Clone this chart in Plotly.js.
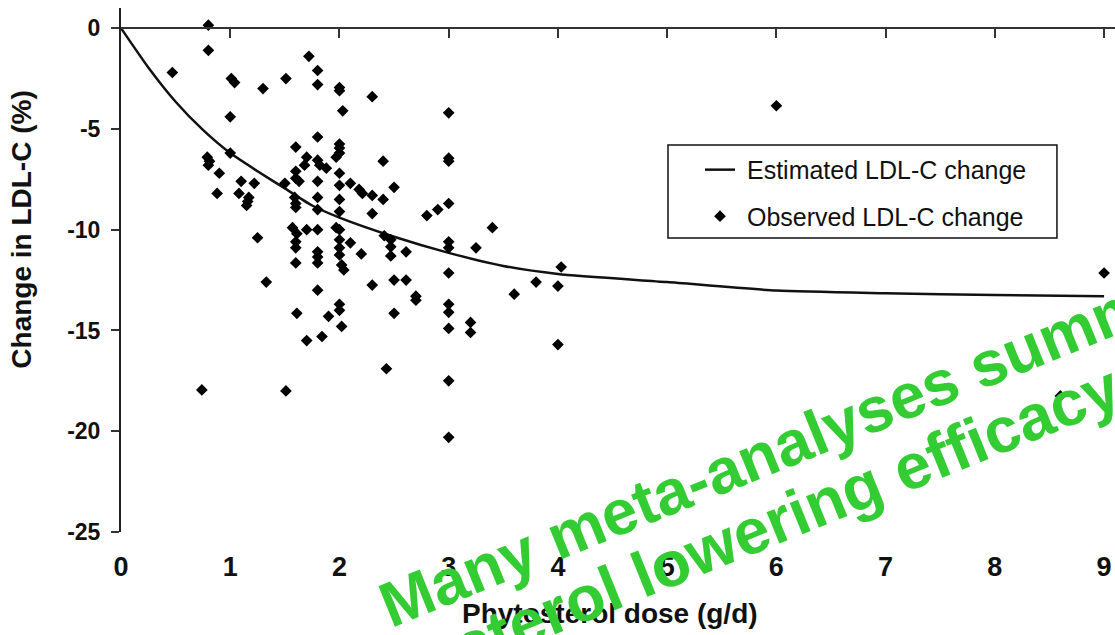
<!DOCTYPE html>
<html>
<head>
<meta charset="utf-8">
<script src="https://cdn.plot.ly/plotly-3.0.1.min.js"></script>
<style>html,body{margin:0;padding:0;background:#fff;}#chart{width:1115px;height:635px;}</style>
</head>
<body>
<div id="chart"></div>
<script>
// Estimated LDL-C change curve
const curveDose = [0, 0.25, 0.5, 0.75, 1.0, 1.25, 1.5, 1.75, 2.0, 2.5, 3.0, 3.5, 4.0, 5.0, 6.0, 7.0, 8.0, 9.0];
const curveChange = [0, -1.95, -3.65, -5.05, -6.2, -7.1, -7.95, -8.8, -9.4, -10.35, -11.15, -11.8, -12.2, -12.6, -13.02, -13.15, -13.24, -13.3];

// Observed LDL-C change
const obsDose = [
  0.47, 0.80, 0.80, 1.01, 1.04, 1.30, 1.51, 1.72, 1.80, 1.80, 2.0, 2.0, 2.03, 2.30, 1.0, 3.0, 6.0, 9.0, 8.6,
  0.79, 0.81, 0.80, 0.90, 0.88, 1.0, 1.10, 1.08, 1.22, 1.17, 1.16, 1.15, 1.25, 1.33, 0.74, 1.51,
  1.50, 1.60, 1.60, 1.60, 1.63, 1.59, 1.60, 1.60, 1.57, 1.61, 1.60, 1.60, 1.60, 1.70,
  1.80, 1.70, 1.68, 1.80, 1.82, 1.88, 1.80, 1.80, 1.80, 1.80, 1.80, 1.80, 1.80, 1.80,
  2.0, 2.0, 2.0, 1.97, 2.0, 2.0, 2.0, 2.0, 1.97, 2.0, 2.0, 2.0, 2.0, 2.02, 2.04,
  2.10, 2.18, 2.21, 2.10, 2.20, 2.30, 2.30, 2.40, 2.40, 2.50, 2.41, 2.47, 2.47, 2.47, 2.61,
  2.80, 2.30, 2.50, 2.61, 2.70, 2.70,
  1.61, 1.70, 1.84, 1.90, 2.0, 2.0, 2.02, 2.43, 2.50,
  3.0, 3.0, 3.0, 2.90, 3.40, 3.0, 3.0, 3.0, 3.0, 3.0, 3.0, 3.0, 3.0,
  3.25, 3.20, 3.20, 3.60, 3.80, 4.03, 4.0, 4.0
];
const obsChange = [
  -2.2, 0.15, -1.1, -2.5, -2.7, -3.0, -2.5, -1.4, -2.1, -2.8, -2.95, -3.1, -4.1, -3.4, -4.4, -4.2, -3.85, -12.15, -18.25,
  -6.4, -6.6, -6.8, -7.2, -8.2, -6.2, -7.6, -8.2, -7.7, -8.4, -8.6, -8.8, -10.4, -12.6, -17.95, -18.0,
  -7.7, -5.9, -7.1, -7.45, -7.6, -8.4, -8.7, -8.9, -9.9, -10.2, -10.6, -10.9, -11.65, -10.0,
  -5.4, -6.4, -6.8, -6.55, -6.8, -6.95, -7.6, -8.4, -9.0, -10.0, -11.1, -11.35, -11.65, -13.0,
  -5.75, -5.95, -6.2, -6.4, -7.2, -7.8, -8.5, -9.1, -9.9, -10.0, -10.5, -10.9, -11.25, -11.75, -12.0,
  -7.7, -8.0, -8.2, -10.65, -11.2, -8.3, -9.2, -6.6, -8.5, -7.9, -10.3, -10.5, -10.85, -11.3, -11.1,
  -9.3, -12.75, -12.5, -12.5, -13.3, -13.5,
  -14.15, -15.5, -15.3, -14.3, -13.7, -14.0, -14.8, -16.9, -14.15,
  -6.45, -6.6, -8.7, -9.0, -9.9, -10.6, -10.9, -12.15, -13.7, -14.1, -14.9, -17.5, -20.3,
  -10.9, -14.6, -15.1, -13.2, -12.6, -11.85, -12.8, -15.7
];

const xTickVals = [0, 1, 2, 3, 4, 5, 6, 7, 8, 9];
const xTickText = ['0', '1', '2', '3', '4', '5', '6', '7', '8', '9'];
const yTickVals = [0, -5, -10, -15, -20, -25];
const yTickText = ['0', '-5', '-10', '-15', '-20', '-25'];

const seriesNames = ['Estimated LDL-C change', 'Observed LDL-C change'];
const xTitle = 'Phytosterol dose (g/d)';
const yTitle = 'Change in LDL-C (%)';
const overlayLine1 = 'Many meta-analyses summarized the';
const overlayLine2 = 'cholesterol lowering efficacy';

const FONT = 'Liberation Sans, Arial, sans-serif';
const LEAD = '\u00a0';

const traces = [
  {
    x: curveDose, y: curveChange, type: 'scatter', mode: 'lines',
    name: LEAD + seriesNames[0], legendgroup: 'a',
    line: {color: '#111', width: 2.5, shape: 'spline', smoothing: 0.6},
    hoverinfo: 'skip'
  },
  {
    x: obsDose, y: obsChange, type: 'scatter', mode: 'markers',
    name: LEAD + seriesNames[1], legendgroup: 'b',
    marker: {symbol: 'diamond', size: 9, color: '#000', line: {width: 0}},
    hoverinfo: 'skip'
  },
  {
    x: [], y: [], xaxis: 'x2', type: 'scatter', mode: 'markers',
    showlegend: false, hoverinfo: 'skip'
  }
];

const layout = {
  width: 1115, height: 635,
  margin: {l: 121, r: 0, t: 8, b: 103, pad: 0},
  paper_bgcolor: '#fff', plot_bgcolor: '#fff',
  font: {family: FONT, color: '#111'},
  showlegend: true,
  xaxis: {
    range: [0, 9.1], showline: false, zeroline: false, showgrid: false,
    ticks: '', tickvals: xTickVals, ticktext: xTickText,
    tickfont: {family: FONT, size: 27, weight: 'bold', color: '#111'},
    ticklabelstandoff: 16, fixedrange: true
  },
  xaxis2: {
    range: [0, 9.1], overlaying: 'x', anchor: 'free', position: 25 / 26, side: 'bottom',
    showline: true, linecolor: '#333', linewidth: 2, zeroline: false, showgrid: false,
    ticks: 'outside', ticklen: 9, tickwidth: 2, tickcolor: '#333',
    tickvals: [1, 2, 3, 4, 5, 6, 7, 8, 9], showticklabels: false, fixedrange: true
  },
  yaxis: {
    range: [-25, 1], showline: true, linecolor: '#222', linewidth: 2,
    zeroline: false, showgrid: false,
    ticks: 'outside', ticklen: 8, tickwidth: 2, tickcolor: '#333',
    tickvals: yTickVals, ticktext: yTickText,
    tickfont: {family: FONT, size: 23, weight: 'bold', color: '#111'},
    ticklabelstandoff: 6, fixedrange: true
  },
  legend: {
    x: 0.5825, y: 0.7349, xanchor: 'left', yanchor: 'top',
    bgcolor: 'rgba(0,0,0,0)', borderwidth: 0,
    font: {family: FONT, size: 25, color: '#111'},
    tracegroupgap: 11
  },
  shapes: [
    {
      type: 'rect', xref: 'paper', yref: 'paper',
      x0: 0.5503, x1: 0.9416, y0: 0.5613, y1: 0.7387,
      line: {color: '#111', width: 1.5}, fillcolor: '#fff', layer: 'above'
    }
  ],
  annotations: [
    {
      text: yTitle, xref: 'paper', yref: 'y', x: -0.0996, y: -10,
      xanchor: 'center', yanchor: 'middle', textangle: -90, showarrow: false,
      font: {family: FONT, size: 28, weight: 'bold', color: '#111'}
    },
    {
      text: xTitle, xref: 'paper', yref: 'paper', x: 0.492, y: -0.155,
      xanchor: 'center', yanchor: 'middle', showarrow: false,
      font: {family: FONT, size: 28, weight: 'bold', color: '#111'}
    },
    {
      text: overlayLine1, xref: 'paper', yref: 'paper', x: 0.248, y: -0.211,
      xanchor: 'left', yanchor: 'bottom', textangle: -22, showarrow: false,
      font: {family: FONT, size: 63.5, weight: 'bold', color: '#33cc33'}
    },
    {
      text: overlayLine2, xref: 'paper', yref: 'paper', x: 0.1663, y: -0.4133,
      xanchor: 'left', yanchor: 'bottom', textangle: -22, showarrow: false,
      font: {family: FONT, size: 64, weight: 'bold', color: '#33cc33'}
    }
  ]
};

Plotly.newPlot('chart', traces, layout, {staticPlot: true, displayModeBar: false});
</script>
</body>
</html>
